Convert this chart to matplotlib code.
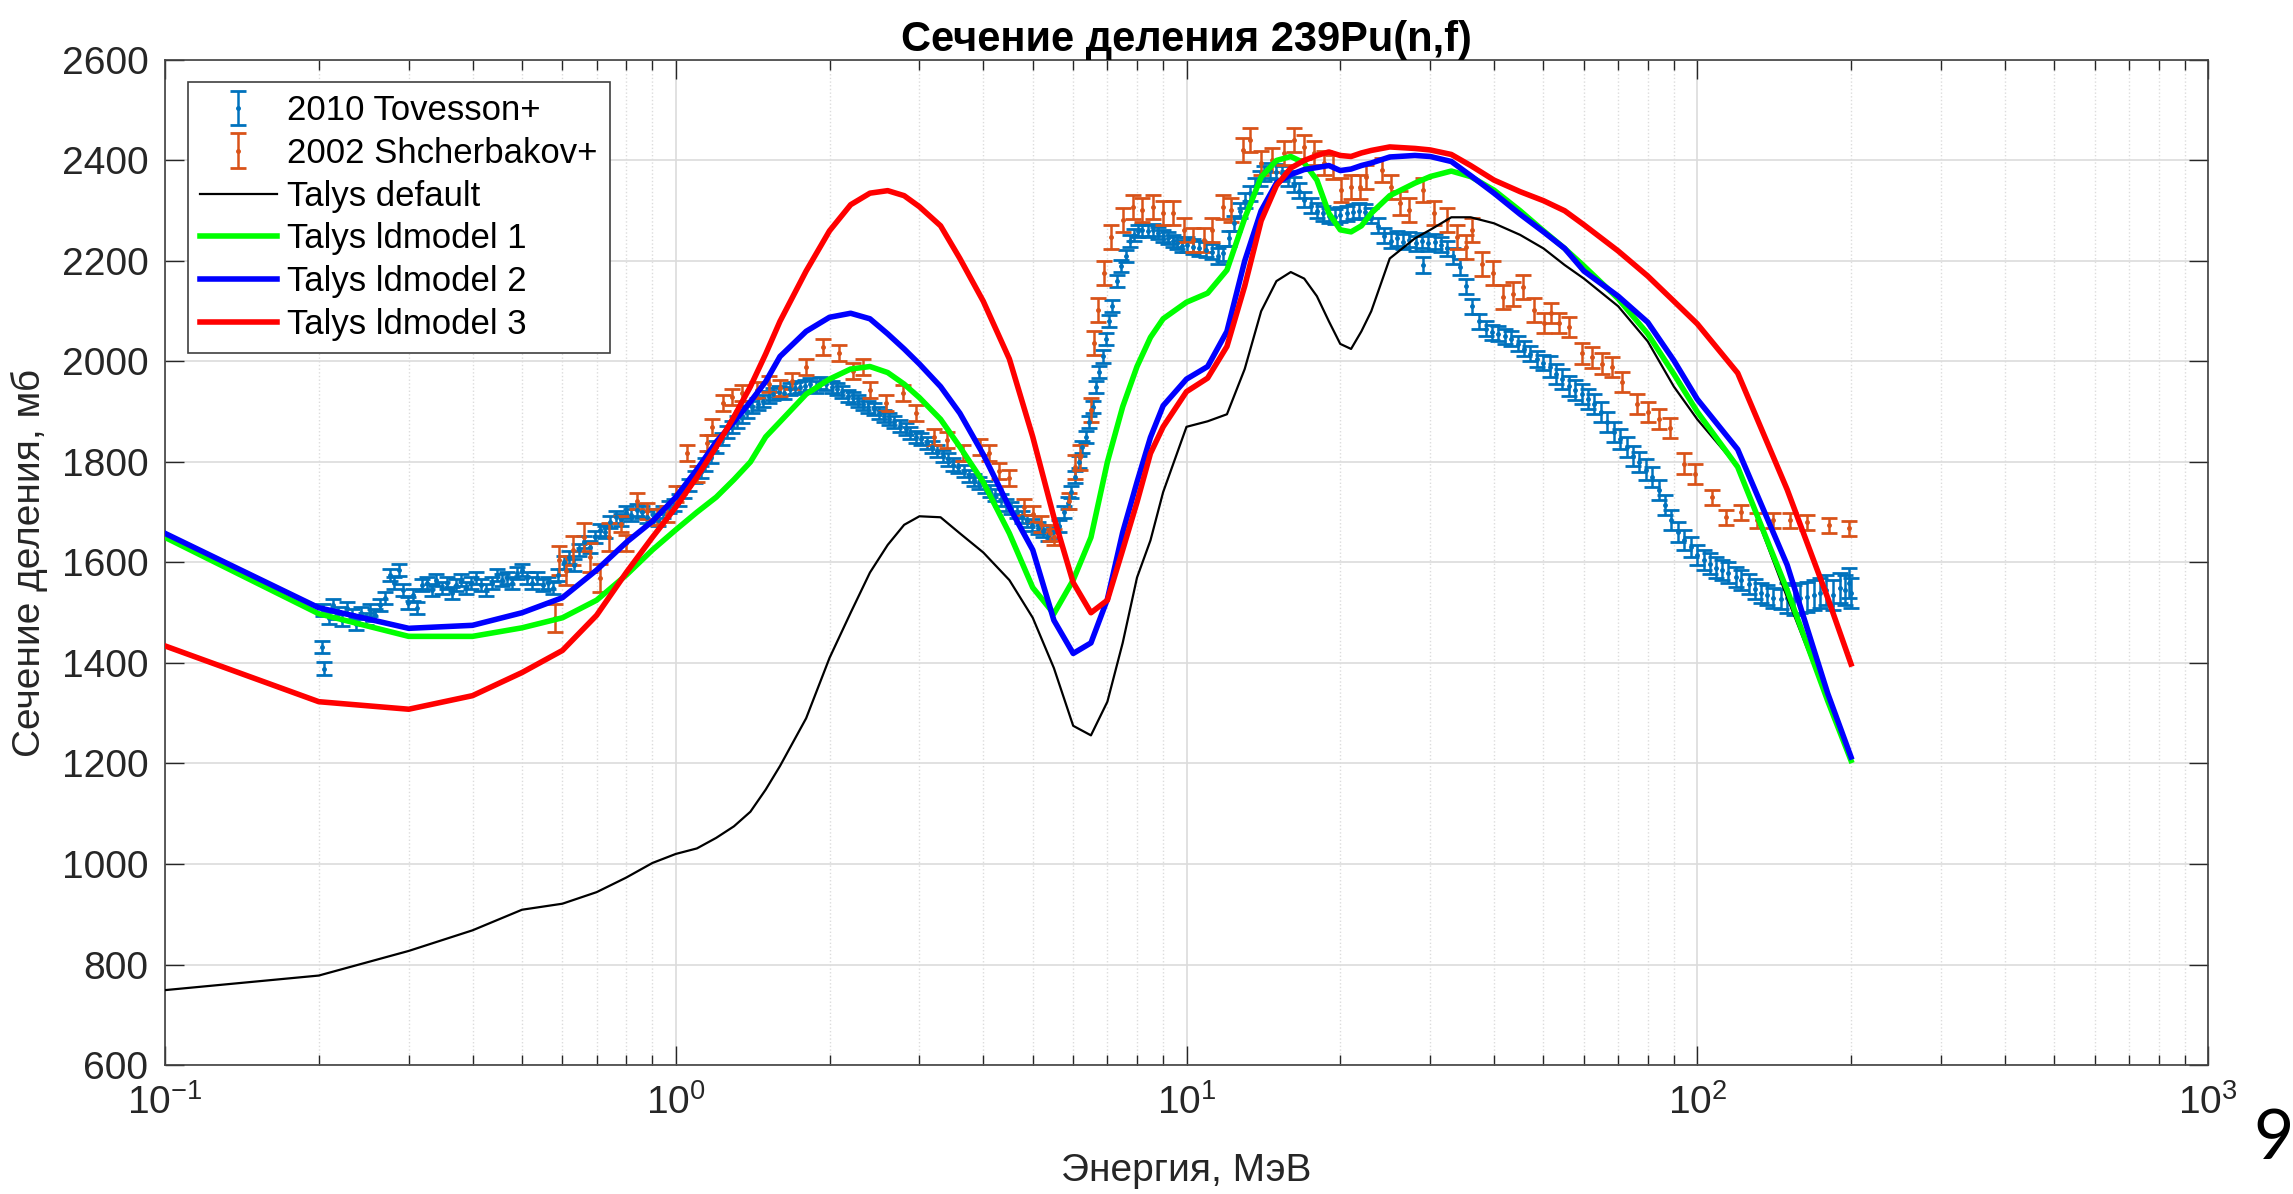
import matplotlib

matplotlib.use("Agg")
import matplotlib.pyplot as plt
import numpy as np
from matplotlib.ticker import LogLocator, MultipleLocator, NullFormatter

plt.rcParams["font.family"] = ["Liberation Sans", "DejaVu Sans"]
plt.rcParams["mathtext.fontset"] = "custom"
plt.rcParams["mathtext.rm"] = "Liberation Sans"
plt.rcParams["mathtext.it"] = "Liberation Sans:italic"

# --- TALYS calculations (energy in MeV, cross section in mb) ---
e_model = [0.1, 0.2, 0.3, 0.4, 0.5, 0.6, 0.7, 0.8, 0.9, 1.0, 1.1, 1.2, 1.3, 1.4, 1.5,
           1.6, 1.8, 2.0, 2.2, 2.4, 2.6, 2.8, 3.0, 3.3, 3.6, 4.0, 4.5, 5.0, 5.5, 6.0,
           6.5, 7.0, 7.5, 8.0, 8.5, 9.0, 10, 11, 12, 13, 14, 15, 16, 17, 18, 19, 20,
           21, 22, 23, 25, 28, 30, 33, 36, 40, 45, 50, 55, 60, 70, 80, 90, 100, 120,
           150, 180, 200]
talys_default = [749, 778, 827, 868, 909, 921, 944, 973, 1002, 1020, 1031, 1052, 1075,
                 1104, 1148, 1195, 1290, 1410, 1500, 1580, 1635, 1675, 1692, 1690, 1658,
                 1620, 1565, 1490, 1390, 1275, 1256, 1323, 1440, 1570, 1644, 1740, 1870,
                 1881, 1895, 1985, 2100, 2160, 2178, 2165, 2130, 2080, 2035, 2025, 2060,
                 2100, 2205, 2245, 2262, 2287, 2287, 2275, 2252, 2225, 2192, 2165, 2110,
                 2040, 1950, 1885, 1790, 1530, 1325, 1206]
ldmodel1 = [1650, 1498, 1453, 1453, 1470, 1490, 1525, 1575, 1625, 1665, 1700, 1730,
            1765, 1800, 1850, 1880, 1935, 1965, 1985, 1990, 1978, 1955, 1928, 1885,
            1830, 1760, 1658, 1550, 1498, 1565, 1650, 1800, 1910, 1990, 2048, 2085,
            2118, 2136, 2182, 2285, 2367, 2400, 2408, 2395, 2361, 2295, 2262, 2258,
            2270, 2295, 2330, 2355, 2368, 2379, 2368, 2341, 2300, 2260, 2225, 2190,
            2125, 2055, 1975, 1900, 1790, 1545, 1325, 1206]
ldmodel2 = [1658, 1510, 1469, 1475, 1500, 1530, 1585, 1640, 1682, 1730, 1785, 1840,
            1880, 1920, 1960, 2010, 2060, 2088, 2096, 2085, 2055, 2025, 1995, 1950,
            1897, 1815, 1710, 1625, 1485, 1419, 1440, 1527, 1660, 1760, 1849, 1912,
            1965, 1990, 2060, 2200, 2300, 2355, 2372, 2382, 2386, 2390, 2380, 2383,
            2390, 2395, 2407, 2410, 2408, 2398, 2370, 2335, 2293, 2258, 2225, 2180,
            2130, 2078, 2002, 1925, 1825, 1595, 1340, 1213]
ldmodel3 = [1434, 1323, 1308, 1335, 1381, 1425, 1495, 1580, 1650, 1710, 1770, 1830,
            1890, 1950, 2015, 2080, 2180, 2260, 2312, 2335, 2340, 2330, 2308, 2270,
            2205, 2120, 2005, 1850, 1690, 1560, 1500, 1525, 1625, 1720, 1817, 1870,
            1940, 1967, 2030, 2150, 2280, 2350, 2385, 2400, 2410, 2417, 2410, 2408,
            2415, 2420, 2427, 2424, 2421, 2412, 2390, 2361, 2338, 2320, 2300, 2272,
            2220, 2170, 2120, 2075, 1977, 1745, 1530, 1398]

# --- 2010 Tovesson+ ---
tov_e = [0.203, 0.205, 0.204, 0.209, 0.213, 0.218, 0.222, 0.227, 0.232, 0.237, 0.242,
         0.247, 0.252, 0.258, 0.264, 0.270, 0.276, 0.281, 0.287, 0.293, 0.299, 0.306,
         0.312, 0.319, 0.326, 0.333, 0.340, 0.348, 0.356, 0.364, 0.372, 0.380, 0.389,
         0.398, 0.407, 0.416, 0.426, 0.436, 0.446, 0.456, 0.467, 0.478, 0.489, 0.500,
         0.512, 0.524, 0.536, 0.549, 0.562, 0.575, 0.589, 0.603, 0.617, 0.632, 0.647,
         0.662, 0.678, 0.694, 0.711, 0.728, 0.745, 0.763, 0.781, 0.800, 0.819, 0.839,
         0.859, 0.880, 0.901, 0.923, 0.945, 0.968, 0.991, 1.015, 1.04, 1.06, 1.09, 1.12,
         1.14, 1.17, 1.20, 1.23, 1.26, 1.29, 1.32, 1.35, 1.38, 1.41, 1.45, 1.48, 1.52,
         1.55, 1.59, 1.63, 1.67, 1.71, 1.75, 1.79, 1.83, 1.88, 1.92, 1.97, 2.02, 2.07,
         2.12, 2.17, 2.22, 2.27, 2.33, 2.38, 2.44, 2.50, 2.56, 2.62, 2.68, 2.75, 2.82,
         2.88, 2.95, 3.02, 3.10, 3.17, 3.25, 3.33, 3.41, 3.49, 3.57, 3.66, 3.75, 3.84,
         3.93, 4.03, 4.12, 4.22, 4.33, 4.43, 4.54, 4.65, 4.76, 4.87, 4.99, 5.11, 5.23,
         5.36, 5.49, 5.62, 5.75, 5.85, 5.95, 6.05, 6.15, 6.25, 6.35, 6.45, 6.55, 6.65,
         6.75, 6.85, 6.95, 7.05, 7.15, 7.30, 7.45, 7.60, 7.75, 7.90, 8.05, 8.20, 8.40,
         8.60, 8.80, 9.00, 9.20, 9.40, 9.60, 9.80, 10.0, 10.3, 10.6, 10.9, 11.2, 11.5,
         11.8, 12.1, 12.4, 12.7, 13.0, 13.3, 13.6, 13.9, 14.2, 14.6, 15.0, 15.4, 15.8,
         16.2, 16.6, 17.0, 17.5, 18.0, 18.5, 19.0, 19.5, 20.0, 20.6, 21.2, 21.8, 22.4,
         23.0, 23.7, 24.4, 25.1, 25.8, 26.5, 27.3, 28.1, 28.9, 29.1, 29.7, 30.6, 31.5,
         32.4, 33.3, 34.3, 35.3, 36.3, 37.4, 38.5, 39.6, 40.8, 42.0, 43.2, 44.5, 45.8,
         47.1, 48.5, 49.9, 51.4, 52.9, 54.4, 56.0, 57.7, 59.4, 61.1, 62.9, 64.7, 66.6,
         68.6, 70.6, 72.7, 74.8, 77.0, 79.3, 81.6, 84.0, 86.5, 89.0, 91.6, 94.3, 97.1,
         100, 103, 106, 109, 112, 115, 119, 122, 126, 130, 133, 137, 141, 146, 150, 155,
         159, 164, 169, 174, 179, 184, 190, 195, 198, 200]
tov_sigma = [1431, 1389, 1505, 1490, 1515, 1500, 1485, 1510, 1495, 1478, 1500, 1488,
             1505, 1495, 1515, 1530, 1575, 1560, 1585, 1545, 1520, 1535, 1510, 1555,
             1560, 1545, 1565, 1550, 1560, 1540, 1555, 1565, 1550, 1560, 1570, 1555,
             1545, 1560, 1575, 1565, 1570, 1560, 1580, 1585, 1570, 1560, 1570, 1555,
             1560, 1550, 1575, 1600, 1610, 1595, 1625, 1640, 1630, 1650, 1665, 1660,
             1680, 1690, 1685, 1700, 1695, 1705, 1700, 1690, 1695, 1685, 1700, 1710,
             1715, 1725, 1740, 1755, 1770, 1780, 1795, 1810, 1830, 1845, 1860, 1870,
             1880, 1890, 1900, 1910, 1915, 1922, 1930, 1935, 1940, 1938, 1945, 1948,
             1950, 1952, 1955, 1950, 1958, 1955, 1950, 1945, 1940, 1932, 1928, 1922,
             1915, 1910, 1905, 1898, 1892, 1885, 1880, 1872, 1865, 1858, 1850, 1845,
             1838, 1830, 1822, 1812, 1805, 1795, 1790, 1782, 1772, 1765, 1758, 1750,
             1742, 1735, 1725, 1715, 1708, 1700, 1690, 1682, 1675, 1668, 1662, 1655,
             1660, 1672, 1700, 1718, 1740, 1770, 1800, 1830, 1850, 1880, 1910, 1950,
             1980, 2010, 2045, 2080, 2110, 2160, 2190, 2210, 2240, 2252, 2260, 2262,
             2260, 2262, 2255, 2250, 2245, 2240, 2235, 2230, 2232, 2228, 2225, 2222,
             2218, 2210, 2215, 2245, 2275, 2300, 2320, 2335, 2350, 2365, 2375, 2380,
             2378, 2375, 2365, 2352, 2340, 2322, 2310, 2300, 2295, 2290, 2288, 2292,
             2295, 2298, 2300, 2298, 2290, 2270, 2250, 2240, 2245, 2238, 2242, 2235,
             2240, 2192, 2235, 2238, 2232, 2225, 2210, 2188, 2150, 2110, 2080, 2065,
             2058, 2055, 2050, 2045, 2035, 2025, 2015, 2005, 1998, 1990, 1975, 1965,
             1952, 1943, 1935, 1925, 1915, 1900, 1880, 1860, 1845, 1830, 1812, 1800,
             1785, 1770, 1745, 1715, 1685, 1660, 1645, 1630, 1615, 1605, 1598, 1590,
             1585, 1580, 1572, 1565, 1558, 1548, 1540, 1535, 1530, 1528, 1530, 1525,
             1530, 1532, 1535, 1540, 1545, 1535, 1550, 1545, 1560, 1540]
tov_err_from = [0, 10, 50, 150]      # MeV, lower edge of each band
tov_err_band = [12, 15, 20, 30]      # mb

# --- 2002 Shcherbakov+ ---
sch_e = [0.58, 0.59, 0.61, 0.63, 0.66, 0.68, 0.71, 0.74, 0.78, 0.80, 0.84, 0.88, 0.92,
         0.96, 1.00, 1.05, 1.10, 1.15, 1.18, 1.24, 1.29, 1.35, 1.44, 1.52, 1.60, 1.69,
         1.80, 1.94, 2.09, 2.22, 2.33, 2.40, 2.58, 2.79, 2.96, 3.20, 3.40, 3.65, 3.95,
         4.10, 4.30, 4.50, 4.80, 5.00, 5.20, 5.40, 5.50, 5.90, 6.05, 6.20, 6.50, 6.60,
         6.70, 6.90, 7.10, 7.50, 7.85, 8.20, 8.60, 9.00, 9.40, 9.90, 10.3, 10.8, 11.2,
         11.8, 12.2, 12.9, 13.3, 14.0, 14.7, 15.5, 16.2, 17.0, 17.8, 18.6, 19.4, 20.1,
         21.0, 21.9, 22.5, 24.1, 25.1, 26.2, 27.3, 29.1, 30.5, 32.4, 33.8, 35.3, 36.2,
         37.9, 39.8, 41.6, 43.6, 45.6, 47.8, 50.1, 51.8, 53.5, 56.0, 59.4, 62.1, 65.0,
         68.0, 71.2, 76.2, 80.0, 84.0, 88.5, 94.0, 99.0, 107, 114, 122, 131, 141, 152,
         164, 181, 198]
sch_sigma = [1490, 1604, 1584, 1624, 1650, 1610, 1570, 1650, 1677, 1638, 1723, 1703,
             1690, 1697, 1737, 1817, 1777, 1837, 1869, 1917, 1929, 1937, 1943, 1955,
             1948, 1962, 1989, 2028, 2016, 1982, 1989, 1943, 1917, 1937, 1897, 1849,
             1843, 1817, 1829, 1817, 1783, 1769, 1710, 1697, 1677, 1658, 1650, 1723,
             1790, 1809, 1903, 2036, 2102, 2176, 2247, 2281, 2307, 2301, 2307, 2295,
             2295, 2261, 2241, 2241, 2261, 2307, 2301, 2421, 2441, 2395, 2401, 2415,
             2441, 2427, 2415, 2395, 2387, 2341, 2347, 2347, 2367, 2381, 2347, 2315,
             2301, 2341, 2295, 2281, 2247, 2227, 2261, 2194, 2176, 2128, 2135, 2148,
             2102, 2076, 2096, 2076, 2068, 2016, 2008, 1996, 1989, 1960, 1915, 1900,
             1886, 1868, 1797, 1777, 1730, 1690, 1700, 1684, 1684, 1684, 1680, 1674,
             1668]
sch_err_from = [0, 0.75, 6, 50, 100]
sch_err_band = [28, 16, 24, 20, 15]


def band_errors(energies, edges, values):
    idx = np.searchsorted(edges, energies, side="right") - 1
    return np.asarray(values, dtype=float)[idx]


fig = plt.figure(figsize=(22.93, 11.94), dpi=100)
ax = fig.add_axes([0.07196, 0.10804, 0.89097, 0.84171])

err_style = dict(fmt=".", markersize=5, capsize=6, elinewidth=1.8, capthick=2.0)
h_tov = ax.errorbar(tov_e, tov_sigma, yerr=band_errors(tov_e, tov_err_from, tov_err_band),
                    color="#0072BD", label="2010 Tovesson+", zorder=2, **err_style)
h_sch = ax.errorbar(sch_e, sch_sigma, yerr=band_errors(sch_e, sch_err_from, sch_err_band),
                    color="#D95319", label="2002 Shcherbakov+", zorder=2, **err_style)

(h_def,) = ax.plot(e_model, talys_default, color="black", linewidth=1.6,
                   label="Talys default", zorder=3)
(h_ld1,) = ax.plot(e_model, ldmodel1, color="#00FF00", linewidth=4,
                   label="Talys ldmodel 1", zorder=3)
(h_ld2,) = ax.plot(e_model, ldmodel2, color="#0000FF", linewidth=4,
                   label="Talys ldmodel 2", zorder=3)
(h_ld3,) = ax.plot(e_model, ldmodel3, color="#FF0000", linewidth=4,
                   label="Talys ldmodel 3", zorder=3)

ax.set_xscale("log")
ax.set_xlim(0.1, 1000)
ax.set_ylim(600, 2600)
ax.yaxis.set_major_locator(MultipleLocator(200))
ax.xaxis.set_major_locator(LogLocator(base=10, numticks=10))
ax.xaxis.set_minor_locator(LogLocator(base=10, subs=np.arange(2, 10), numticks=50))
ax.xaxis.set_minor_formatter(NullFormatter())

ax.grid(True, which="major", color="#dcdcdc", linewidth=1.2, linestyle="-")
ax.grid(True, which="minor", axis="x", color="#dcdcdc", linewidth=1.0, linestyle=":")
ax.set_axisbelow(True)

ax.tick_params(which="both", direction="in", top=True, right=True, colors="#262626",
               labelsize=28)
ax.tick_params(which="major", length=14, width=1.0)
ax.tick_params(which="minor", length=7, width=1.0)
ax.tick_params(axis="x", which="major", pad=14)
ax.tick_params(axis="y", which="major", pad=12)
for spine in ax.spines.values():
    spine.set_color("#404040")
    spine.set_linewidth(1.2)

ax.set_title("Сечение деления 239Pu(n,f)", fontsize=30, fontweight="bold", pad=6)
ax.set_xlabel("Энергия, МэВ", fontsize=28, color="#262626", labelpad=22)
ax.set_ylabel("Сечение деления, мб", fontsize=28, color="#262626", labelpad=10)

leg = ax.legend([h_tov, h_sch, h_def, h_ld1, h_ld2, h_ld3],
                ["2010 Tovesson+", "2002 Shcherbakov+", "Talys default",
                 "Talys ldmodel 1", "Talys ldmodel 2", "Talys ldmodel 3"],
                loc="upper left", bbox_to_anchor=(0.0113, 0.978), borderaxespad=0,
                fontsize=25, handlelength=2.2, labelspacing=0.28, handletextpad=0.3,
                frameon=True, fancybox=False, framealpha=1, borderpad=0.35)
leg.get_frame().set_edgecolor("#404040")
leg.get_frame().set_linewidth(1.2)

fig.text(0.9917, 0.046, "9", fontsize=50, family="Lato", ha="center", va="center")

fig.savefig("out.png", dpi=100)
plt.close(fig)
